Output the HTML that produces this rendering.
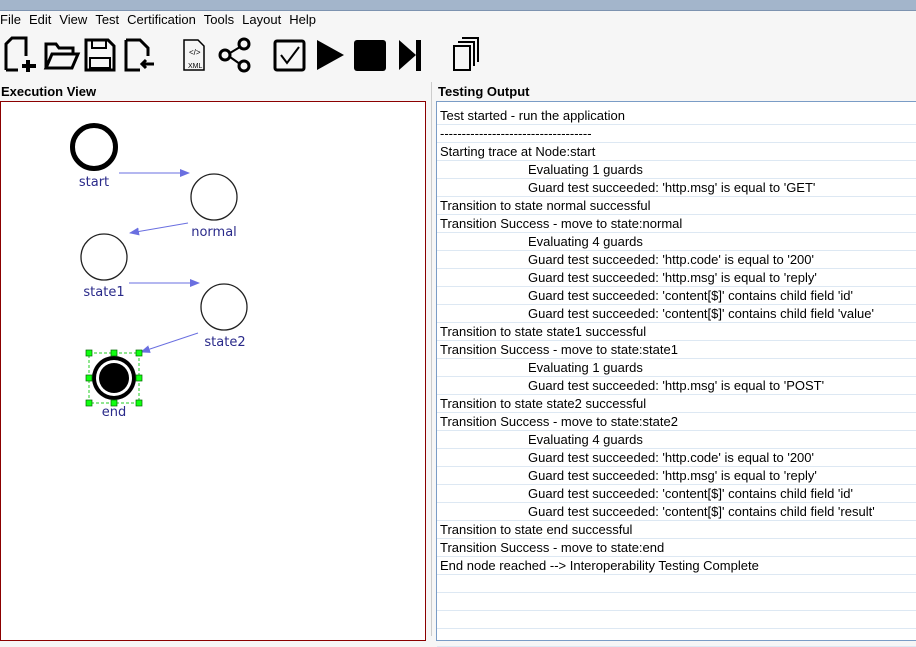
<html><head><style>
body{margin:0;width:916px;height:636px;overflow:hidden;background:#f6f6f6;font-family:"Liberation Sans",sans-serif;position:relative}
.tb{position:absolute;left:0;top:0;width:916px;height:10px;background:#a3b5cb;border-bottom:1px solid #7d93b0}
.menu{position:absolute;top:12px;left:0;font-size:13px;color:#000}
.menu span{margin-right:8px}
.h{position:absolute;font-weight:bold;font-size:13px}
.left{position:absolute;left:0;top:101px;width:426px;height:540px;border:1px solid #8b0000;background:#fff;box-sizing:border-box}
.right{position:absolute;left:436px;top:101px;width:490px;height:540px;border:1px solid #7a9cc6;background:#fff;box-sizing:border-box}
.row{height:17px;border-bottom:1px solid #dde8f3;font-size:13px;line-height:17px;padding-left:3px;white-space:pre;color:#000}
.i{padding-left:91px}
</style></head><body>
<div class="tb"></div>
<div class="menu"><span>File</span><span>Edit</span><span>View</span><span>Test</span><span>Certification</span><span>Tools</span><span>Layout</span><span>Help</span></div>
<svg style="position:absolute;left:0;top:36px" width="500" height="40">
<g fill="none" stroke="#000" stroke-width="3">
<path d="M6 34V8l6-6h14v18M6 34h12"/><path d="M28 24v12M22 30h14" stroke-width="4"/>
<path d="M46 32V8h10l3 4h14v6"/><path d="M46 32l6-14h26l-6 14z"/>
<path d="M86 4h22l6 6v24H86z"/><path d="M92 4v8h14V4M90 22h20v10H90z" stroke-width="2"/>
<path d="M126 4h14l8 8v8M126 4v30h14"/><path d="M154 28h-12M146 24l-4 4 4 4" stroke-width="3"/>
<path d="M184 4h14l6 6v24h-20z" stroke-width="1.5"/>
<circle cx="225" cy="19" r="5"/><circle cx="244" cy="8" r="5"/><circle cx="244" cy="30" r="5"/><path d="M230 17l10-6M230 21l10 7" stroke-width="2"/>
<rect x="275" y="5" width="29" height="29" rx="2"/><path d="M281 19l6 8 12-16" stroke-width="2"/>
<path d="M454 10h16v24h-16z" stroke-width="2"/><path d="M458 6h16v24M462 2h16v24" stroke-width="2"/>
</g>
<text x="188" y="32" font-size="7" font-family="Liberation Sans">XML</text>
<text x="189" y="19" font-size="8" font-family="Liberation Sans">&lt;/&gt;</text>
<path d="M317 4l27 15-27 15z"/><rect x="354" y="4" width="32" height="31" rx="3"/>
<path d="M399 4l17 15-17 15z"/><rect x="416" y="4" width="5" height="31"/>
</svg>
<div class="h" style="left:1px;top:84px">Execution View</div>
<div class="h" style="left:438px;top:84px">Testing Output</div>
<div style="position:absolute;left:431px;top:82px;width:1px;height:554px;background:#ccc"></div>
<div class="left"></div>
<svg style="position:absolute;left:0;top:0" width="430" height="636">
<defs><marker id="a" markerWidth="10" markerHeight="8" refX="9" refY="4" orient="auto"><path d="M0 0L10 4L0 8z" fill="#6a6fe0"/></marker></defs>
<g stroke="#6a6fe0" stroke-width="1" marker-end="url(#a)">
<line x1="119" y1="173" x2="189" y2="173"/><line x1="188" y1="223" x2="130" y2="233"/>
<line x1="129" y1="283" x2="199" y2="283"/><line x1="198" y1="333" x2="141" y2="352"/></g>
<circle cx="94" cy="147" r="21.5" fill="none" stroke="#000" stroke-width="5"/>
<g fill="none" stroke="#222" stroke-width="1.3"><circle cx="214" cy="197" r="23"/><circle cx="104" cy="257" r="23"/><circle cx="224" cy="307" r="23"/></g>
<circle cx="114" cy="378" r="22" fill="#000"/><circle cx="114" cy="378" r="18" fill="#fff"/><circle cx="114" cy="378" r="15" fill="#000"/>
<rect x="89" y="353" width="50" height="50" fill="none" stroke="#2c2" stroke-dasharray="3,2"/>
<g fill="#1f1" stroke="#060" stroke-width=".7"><rect x="86" y="350" width="6" height="6"/><rect x="111" y="350" width="6" height="6"/><rect x="136" y="350" width="6" height="6"/><rect x="86" y="375" width="6" height="6"/><rect x="136" y="375" width="6" height="6"/><rect x="86" y="400" width="6" height="6"/><rect x="111" y="400" width="6" height="6"/><rect x="136" y="400" width="6" height="6"/></g>
<g fill="#2a2a8a" font-size="13" font-family="DejaVu Sans" text-anchor="middle">
<text x="94" y="186">start</text><text x="214" y="236">normal</text><text x="104" y="296">state1</text><text x="225" y="346">state2</text><text x="114" y="416">end</text></g>
</svg>
<div class="right"><div style="padding-top:5px">
<div class="row">Test started - run the application</div>
<div class="row">-----------------------------------</div>
<div class="row">Starting trace at Node:start</div>
<div class="row i">Evaluating 1 guards</div>
<div class="row i">Guard test succeeded: 'http.msg' is equal to 'GET'</div>
<div class="row">Transition to state normal successful</div>
<div class="row">Transition Success - move to state:normal</div>
<div class="row i">Evaluating 4 guards</div>
<div class="row i">Guard test succeeded: 'http.code' is equal to '200'</div>
<div class="row i">Guard test succeeded: 'http.msg' is equal to 'reply'</div>
<div class="row i">Guard test succeeded: 'content[$]' contains child field 'id'</div>
<div class="row i">Guard test succeeded: 'content[$]' contains child field 'value'</div>
<div class="row">Transition to state state1 successful</div>
<div class="row">Transition Success - move to state:state1</div>
<div class="row i">Evaluating 1 guards</div>
<div class="row i">Guard test succeeded: 'http.msg' is equal to 'POST'</div>
<div class="row">Transition to state state2 successful</div>
<div class="row">Transition Success - move to state:state2</div>
<div class="row i">Evaluating 4 guards</div>
<div class="row i">Guard test succeeded: 'http.code' is equal to '200'</div>
<div class="row i">Guard test succeeded: 'http.msg' is equal to 'reply'</div>
<div class="row i">Guard test succeeded: 'content[$]' contains child field 'id'</div>
<div class="row i">Guard test succeeded: 'content[$]' contains child field 'result'</div>
<div class="row">Transition to state end successful</div>
<div class="row">Transition Success - move to state:end</div>
<div class="row">End node reached --&gt; Interoperability Testing Complete</div>
<div class="row"> </div><div class="row"> </div><div class="row"> </div><div class="row"> </div>
</div></div>
</body></html>
